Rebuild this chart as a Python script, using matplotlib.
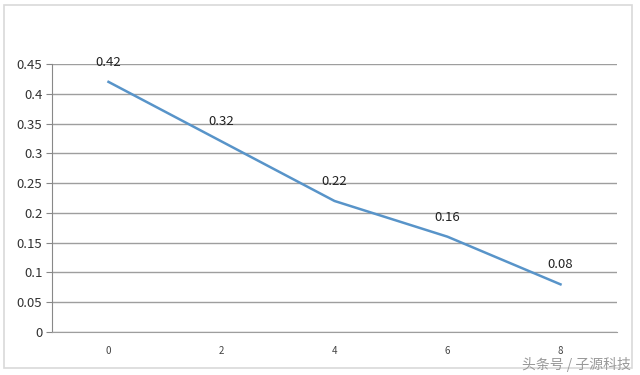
import matplotlib.pyplot as plt
from matplotlib.patches import Rectangle

# 数据
x_labels = ['0', '2', '4', '6', '8']
y_values = [0.42, 0.32, 0.22, 0.16, 0.08]
y_ticks = [0, 0.05, 0.1, 0.15, 0.2, 0.25, 0.3, 0.35, 0.4, 0.45]
y_tick_labels = ['0', '0.05', '0.1', '0.15', '0.2', '0.25', '0.3', '0.35', '0.4', '0.45']
watermark = '头条号 / 子源科技'

plt.rcParams['font.family'] = ['Noto Sans CJK SC', 'DejaVu Sans']

fig = plt.figure(figsize=(6.4, 3.75), dpi=100)
fig.patch.set_facecolor('white')
# 外框
fig.patches.append(Rectangle((4 / 640, 7 / 375), 628 / 640, 363 / 375, transform=fig.transFigure,
                             fill=False, edgecolor='#d9d9d9', linewidth=1.2))

ax = fig.add_axes([52 / 640, 43 / 375, 565 / 640, 268 / 375])
pos = list(range(len(x_labels)))
ax.plot(pos, y_values, color='#5894c9', linewidth=1.8)
for p, v in zip(pos, y_values):
    ax.annotate(f'{v:g}', (p, v), xytext=(0, 9.5), textcoords='offset points',
                ha='center', va='bottom', fontsize=9.5, color='#222222')

ax.set_xlim(-0.5, len(x_labels) - 0.5)
ax.set_ylim(0, 0.45)
ax.set_yticks(y_ticks)
ax.set_yticklabels(y_tick_labels, fontsize=9.5, color='#333333')
ax.set_xticks(pos)
ax.set_xticklabels(x_labels, fontsize=7, color='#444444')
ax.tick_params(axis='x', length=0, pad=10)
ax.tick_params(axis='y', length=4, color='#888888', pad=3)
ax.grid(axis='y', color='#9e9e9e', linewidth=1)
ax.set_axisbelow(True)
for s in ['top', 'right']:
    ax.spines[s].set_visible(False)
ax.spines['left'].set_color('#888888')
ax.spines['bottom'].set_color('#9e9e9e')

fig.text(631 / 640, 3 / 375, watermark, ha='right', va='bottom', fontsize=10, color='#999999')

fig.savefig('out.png', dpi=100)
